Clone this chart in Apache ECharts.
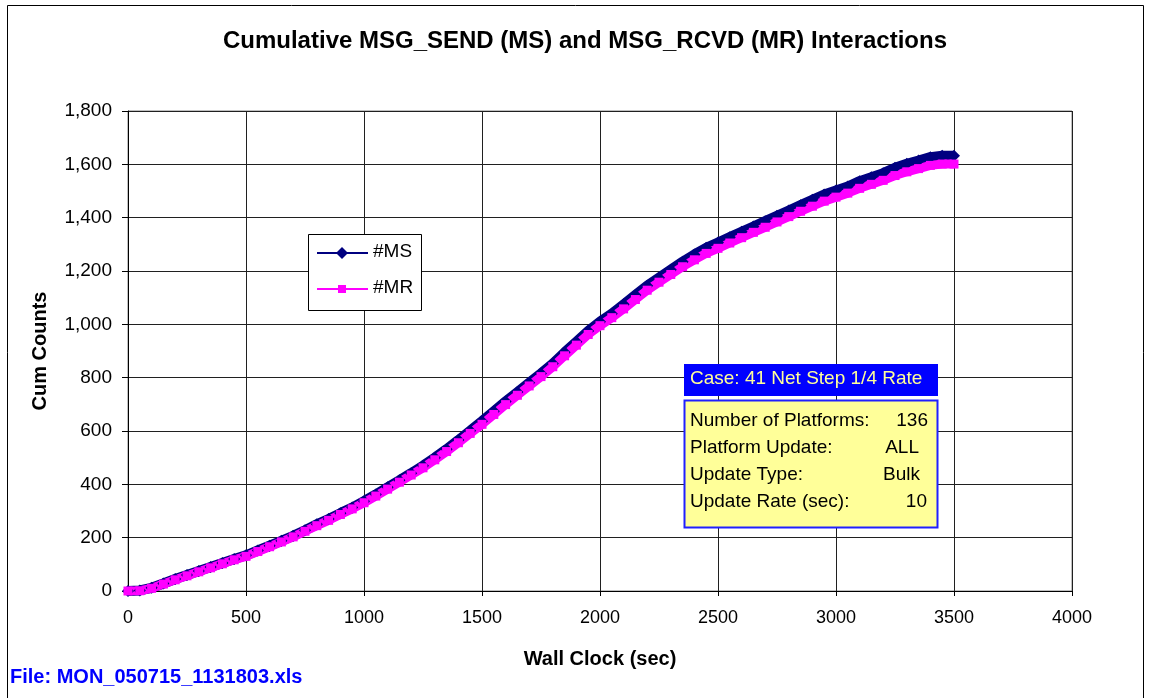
<!DOCTYPE html>
<html>
<head>
<meta charset="utf-8">
<script src="https://cdn.jsdelivr.net/npm/echarts@6/dist/echarts.min.js"></script>
<style>html,body{margin:0;padding:0;background:#fff;}#c{width:1149px;height:698px;}</style>
</head>
<body>
<div id="c"></div>
<script>
const times = [0,50,100,150,200,250,300,350,400,450,500,550,600,650,700,750,800,850,900,950,1000,1050,1100,1150,1200,1250,1300,1350,1400,1450,1500,1550,1600,1650,1700,1750,1800,1850,1900,1950,2000,2050,2100,2150,2200,2250,2300,2350,2400,2450,2500,2550,2600,2650,2700,2750,2800,2850,2900,2950,3000,3050,3100,3150,3200,3250,3300,3350,3400,3450,3500];
const msValues = [0,2,12,28,45,60,75,90,105,120,134,152,170,188,207,228,250,270,292,313,337,362,389,415,442,470,500,532,566,601,637,674,711,746,781,816,853,895,935,975,1010,1040,1075,1110,1145,1175,1205,1235,1262,1287,1307,1327,1347,1367,1387,1407,1427,1447,1467,1487,1502,1517,1537,1552,1567,1587,1602,1614,1627,1632,1632];
const mrValues = [0,1,10,26,42,57,72,87,102,117,130,148,166,184,203,224,245,265,287,308,331,356,382,408,435,462,492,523,556,591,625,662,699,734,769,804,841,882,922,962,995,1025,1058,1093,1128,1158,1187,1216,1242,1266,1285,1305,1325,1345,1364,1384,1404,1424,1443,1462,1477,1492,1510,1525,1540,1558,1572,1584,1596,1601,1601];
const yTicks = [0,200,400,600,800,1000,1200,1400,1600,1800];
const xTicks = [0,500,1000,1500,2000,2500,3000,3500,4000];
const caseTitle = 'Case: 41 Net Step 1/4 Rate';
const infoLabels = ['Number of Platforms:','Platform Update:','Update Type:','Update Rate (sec):'];
const infoValues = ['136','ALL','Bulk','10'];

const FONT = '"Liberation Sans", Arial, sans-serif';
const chart = echarts.init(document.getElementById('c'), null, {renderer:'canvas'});
const msData = times.map((t,i)=>[t,msValues[i]]);
const mrData = times.map((t,i)=>[t,mrValues[i]]);

const rowY = [421, 448, 475, 502];
const valRight = [928, 919, 920, 927];
const infoEls = [];
infoLabels.forEach((l,i)=>{
  infoEls.push({type:'text', z:101, style:{x:690, y:rowY[i], text:l, font:'19px '+FONT, fill:'#000', align:'left', verticalAlign:'middle'}});
});
infoValues.forEach((v,i)=>{
  infoEls.push({type:'text', z:101, style:{x:valRight[i], y:rowY[i], text:v, font:'19px '+FONT, fill:'#000', align:'right', verticalAlign:'middle'}});
});

chart.setOption({
  animation:false,
  backgroundColor:'#fff',
  title:{text:'Cumulative MSG_SEND (MS) and MSG_RCVD (MR) Interactions', left:580, top:24, textAlign:'center',
    textStyle:{fontFamily:FONT, fontSize:24, fontWeight:'bold', color:'#000'}},
  grid:{left:128, right:77, top:111, bottom:107, show:true, borderColor:'#808080', borderWidth:1, backgroundColor:'#fff'},
  legend:{show:false},
  xAxis:{type:'value', min:0, max:4000, interval:500,
    name:'Wall Clock (sec)', nameLocation:'middle', nameGap:58,
    nameTextStyle:{fontFamily:FONT, fontSize:20, fontWeight:'bold', color:'#000'},
    axisLine:{show:true, lineStyle:{color:'#000', width:1}},
    axisTick:{show:true, inside:false, length:5, lineStyle:{color:'#000'}},
    axisLabel:{fontFamily:FONT, fontSize:18, color:'#000', margin:18, formatter:v=>xTicks.includes(v)?String(v):''},
    splitLine:{show:true, lineStyle:{color:'#202020', width:1}}},
  yAxis:{type:'value', min:0, max:1800, interval:200,
    name:'Cum Counts', nameLocation:'middle', nameGap:78, nameRotate:90,
    nameTextStyle:{fontFamily:FONT, fontSize:20, fontWeight:'bold', color:'#000'},
    axisLine:{show:true, lineStyle:{color:'#000', width:1}},
    axisTick:{show:true, inside:false, length:6, lineStyle:{color:'#000'}},
    axisLabel:{fontFamily:FONT, fontSize:19, color:'#000', margin:16,
      formatter:v=>yTicks.includes(v)?v.toLocaleString('en-US'):''},
    splitLine:{show:true, lineStyle:{color:'#202020', width:1}}},
  series:[
    {name:'#MS', type:'line', data:msData, symbol:'diamond', symbolSize:12, showAllSymbol:true,
      itemStyle:{color:'#000080'}, lineStyle:{color:'#000080', width:10}},
    {name:'#MR', type:'line', data:mrData, symbol:'rect', symbolSize:9, showAllSymbol:true,
      itemStyle:{color:'#ff00ff'}, lineStyle:{color:'#ff00ff', width:9}}
  ],
  graphic:[
    {type:'rect', left:5, top:3, shape:{width:1136, height:710}, style:{fill:'none', stroke:'#000', lineWidth:1}, z:-10},
    {type:'text', z:10, style:{x:10, y:677, text:'File: MON_050715_1131803.xls', font:'bold 20px '+FONT, fill:'#0000ff', align:'left', verticalAlign:'middle'}},
    // legend
    {type:'rect', z:100, shape:{x:308.5, y:234.5, width:113, height:76}, style:{fill:'#fff', stroke:'#000', lineWidth:1}},
    {type:'line', z:101, shape:{x1:317, y1:253, x2:368, y2:253}, style:{stroke:'#000080', lineWidth:2}},
    {type:'polygon', z:101, shape:{points:[[342,247],[348,253],[342,259],[336,253]]}, style:{fill:'#000080'}},
    {type:'text', z:101, style:{x:373, y:252, text:'#MS', font:'19px '+FONT, fill:'#000', align:'left', verticalAlign:'middle'}},
    {type:'line', z:101, shape:{x1:317, y1:289, x2:368, y2:289}, style:{stroke:'#ff00ff', lineWidth:2}},
    {type:'rect', z:101, shape:{x:338, y:285, width:8, height:8}, style:{fill:'#ff00ff'}},
    {type:'text', z:101, style:{x:373, y:288, text:'#MR', font:'19px '+FONT, fill:'#000', align:'left', verticalAlign:'middle'}},
    // case box
    {type:'rect', z:100, shape:{x:684, y:364, width:254, height:32}, style:{fill:'#0000ff'}},
    {type:'text', z:101, style:{x:690, y:379, text:caseTitle, font:'19px '+FONT, fill:'#ffff99', align:'left', verticalAlign:'middle'}},
    {type:'rect', z:100, shape:{x:684.5, y:400.5, width:253, height:127}, style:{fill:'#ffff99', stroke:'#2020ff', lineWidth:2}},
    {type:'group', z:101, children:infoEls}
  ]
});
</script>
</body>
</html>
